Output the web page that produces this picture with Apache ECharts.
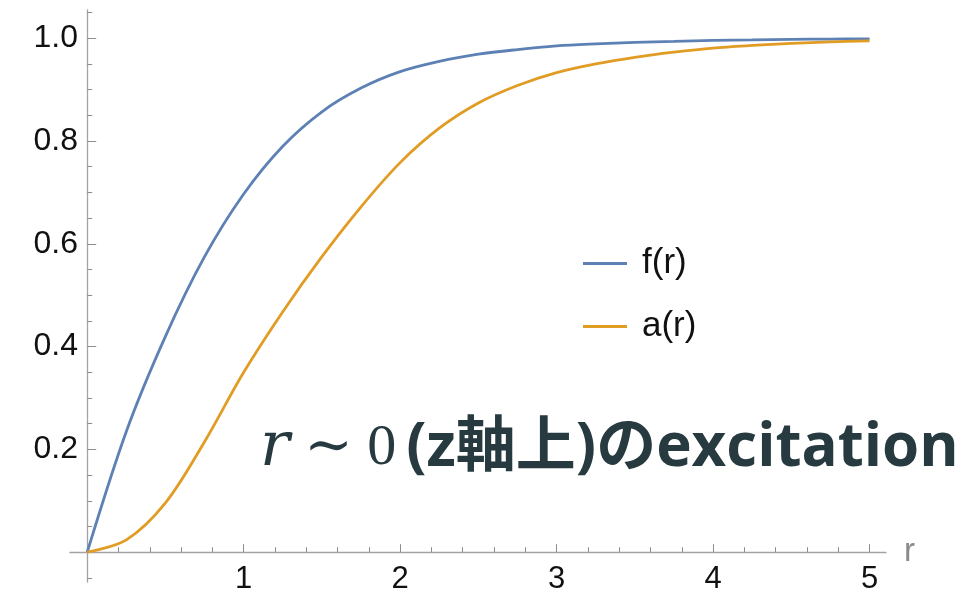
<!DOCTYPE html>
<html>
<head>
<meta charset="utf-8">
<script src="https://cdn.jsdelivr.net/npm/echarts@6/dist/echarts.min.js"></script>
<style>
  html, body { margin: 0; padding: 0; background: #fff; }
  #chart { width: 963px; height: 592px; }
</style>
</head>
<body>
<div id="chart"></div>
<script>
// radial profiles of the vortex fields, sampled in r
const rValues = [0, 0.25, 0.5, 0.75, 1.0, 1.25, 1.5, 1.75, 2.0, 2.25, 2.5, 2.75, 3.0, 3.25, 3.5, 3.75, 4.0, 4.25, 4.5, 4.75, 5.0];
const fValues = [0, 0.235, 0.42, 0.575, 0.697, 0.79, 0.857, 0.903, 0.935, 0.955, 0.969, 0.978, 0.985, 0.989, 0.992, 0.994, 0.996, 0.997, 0.998, 0.9985, 0.999];
const aValues = [0, 0.024, 0.096, 0.215, 0.350, 0.468, 0.575, 0.672, 0.758, 0.825, 0.874, 0.908, 0.933, 0.950, 0.963, 0.973, 0.981, 0.986, 0.990, 0.993, 0.995];
const seriesNames = ['f(r)', 'a(r)'];

const xMajorTicks = [1, 2, 3, 4, 5];
const xMinorTicks = [0.2, 0.4, 0.6, 0.8, 1.2, 1.4, 1.6, 1.8, 2.2, 2.4, 2.6, 2.8, 3.2, 3.4, 3.6, 3.8, 4.2, 4.4, 4.6, 4.8];
const yMajorTicks = [0.2, 0.4, 0.6, 0.8, 1.0];
const yMinorTicks = [-0.05, 0.05, 0.1, 0.15, 0.25, 0.3, 0.35, 0.45, 0.5, 0.55, 0.65, 0.7, 0.75, 0.85, 0.9, 0.95, 1.05];

const xRange = [-0.11, 5.105];
const yRange = [-0.058, 1.055];

const AXIS_GRAY = '#a3a3a3';
const TICK_GRAY = '#8c8c8c';
const LABEL_FONT = '"Liberation Sans", Arial, sans-serif';
const NOTE_COLOR = '#263a3f';

function pairs(xs, ys) { return xs.map((x, i) => [x, ys[i]]); }

// labels are laid out from the grid edge, so the margins reach back to the zero lines
function xAxisDef(ticks, len, withLabels) {
  return {
    type: 'value', position: 'bottom', min: xRange[0], max: xRange[1],
    axisLine: { show: withLabels, onZero: true, lineStyle: { color: AXIS_GRAY, width: 1.3 } },
    axisTick: { show: true, inside: true, length: len, customValues: ticks, lineStyle: { color: TICK_GRAY, width: 1 } },
    axisLabel: withLabels ? { show: true, customValues: ticks, margin: -18, color: '#111', fontSize: 31, fontFamily: LABEL_FONT } : { show: false },
    splitLine: { show: false },
    name: withLabels ? 'r' : '',
    nameLocation: 'end', nameGap: 18,
    nameTextStyle: { color: '#8a8a8a', fontSize: 33, fontFamily: LABEL_FONT, verticalAlign: 'middle', padding: [4, 0, 0, 0] }
  };
}

function yAxisDef(ticks, len, withLabels) {
  return {
    type: 'value', position: 'left', min: yRange[0], max: yRange[1],
    axisLine: { show: withLabels, onZero: true, lineStyle: { color: AXIS_GRAY, width: 1.3 } },
    axisTick: { show: true, inside: true, length: len, customValues: ticks, lineStyle: { color: TICK_GRAY, width: 1 } },
    axisLabel: withLabels ? { show: true, customValues: ticks, margin: -8, color: '#111', fontSize: 32, fontFamily: LABEL_FONT,
      formatter: v => v.toFixed(1) } : { show: false },
    splitLine: { show: false }
  };
}

const chart = echarts.init(document.getElementById('chart'), null, { renderer: 'canvas' });
chart.setOption({
  animation: false,
  backgroundColor: '#ffffff',
  grid: { left: 70, top: 10, width: 816, height: 572, containLabel: false, outerBoundsMode: 'none' },
  xAxis: [xAxisDef(xMajorTicks, 8, true), xAxisDef(xMinorTicks, 5, false)],
  yAxis: [yAxisDef(yMajorTicks, 9, true), yAxisDef(yMinorTicks, 5, false)],
  legend: {
    orient: 'vertical', left: 578, top: 241,
    icon: 'rect', itemWidth: 44, itemHeight: 3, itemGap: 28,
    textStyle: { fontSize: 35, fontFamily: LABEL_FONT, color: '#111', lineHeight: 34, padding: [0, 0, 0, 10] },
    data: seriesNames
  },
  series: [
    {
      name: seriesNames[0], type: 'line', xAxisIndex: 0, yAxisIndex: 0,
      data: pairs(rValues, fValues), smooth: 0.33, showSymbol: false,
      lineStyle: { color: '#5e81b5', width: 2.8 }, itemStyle: { color: '#5e81b5' }
    },
    {
      name: seriesNames[1], type: 'line', xAxisIndex: 0, yAxisIndex: 0,
      data: pairs(rValues, aValues), smooth: 0.33, showSymbol: false,
      lineStyle: { color: '#e19c24', width: 2.8 }, itemStyle: { color: '#e19c24' }
    }
  ],
  graphic: [{
    type: 'text', left: 260, top: 418, z: 100,
    style: {
      text: '{m|r}{s| ∼ 0}{t|(z軸上)のexcitation}',
      rich: {
        m: { fontFamily: '"DejaVu Serif", "Liberation Serif", serif', fontStyle: 'italic', fontSize: 62, fill: NOTE_COLOR },
        s: { fontFamily: '"Liberation Serif", "DejaVu Serif", serif', fontSize: 58, fill: NOTE_COLOR },
        t: { fontFamily: '"Open Sans", "Noto Sans CJK JP", sans-serif', fontWeight: 'bold', fontSize: 60, fill: NOTE_COLOR, padding: [0, 0, 0, 10] }
      }
    }
  }]
});
</script>
</body>
</html>
